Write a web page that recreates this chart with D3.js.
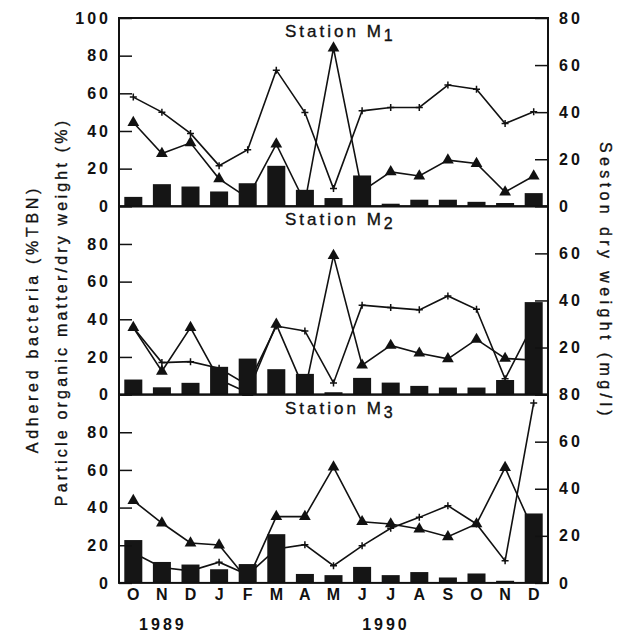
<!DOCTYPE html>
<html>
<head>
<meta charset="utf-8">
<script src="https://cdn.jsdelivr.net/npm/d3@7"></script>
<style>
  body { margin: 0; background: #fff; }
  svg text { font-family: "Liberation Sans", Arial, sans-serif; font-weight: bold; fill: #111; }
  svg text.title { font-weight: normal; stroke: #111; stroke-width: 0.35px; }
</style>
</head>
<body>
<div id="chart"></div>
<script>
// Months Oct 1989 - Dec 1990
const months = ['O', 'N', 'D', 'J', 'F', 'M', 'A', 'M', 'J', 'J', 'A', 'S', 'O', 'N', 'D'];
const years = [{ label: '1989', at: 1 }, { label: '1990', at: 8.8 }];

// Station M1
const seston1 = [4, 9.4, 8.4, 6.3, 9.8, 17.2, 7.0, 3.5, 13.1, 1.1, 2.8, 2.8, 1.9, 1.4, 5.6];
const pom1 = [58, 50, 38.7, 21.6, 30, 72.3, 49.8, 9.4, 50.7, 52.5, 52.5, 64.4, 62.2, 44, 50.2];
const bact1 = [44.5, 28, 33.7, 14.6, 4.5, 33, 2, 84, 8, 18.3, 16.1, 24.5, 22.7, 7.6, 16.1];

// Station M2
const seston2 = [6.4, 3.1, 5.0, 11.8, 15.3, 10.8, 8.8, 1.0, 7.1, 5.1, 3.7, 3.0, 3.0, 6.2, 39.3];
const pom2 = [35.6, 17, 17.5, 14, 5, 36.4, 33.8, 6.2, 47.5, 46.2, 45, 52.4, 45.3, 8.4, 38];
const bact2 = [35.6, 12.4, 35.6, 8, 1, 37.3, 2, 73.8, 15.6, 26.1, 22, 19, 29.3, 19.2, 18.3];

// Station M3
const seston3 = [18.2, 8.9, 7.8, 5.8, 8.0, 20.7, 3.8, 3.3, 6.8, 3.3, 4.6, 2.3, 4.0, 0.9, 29.5];
const pom3 = [16, 8.2, 6.4, 11, 4.3, 18, 20.3, 9.1, 19.7, 29, 34.8, 41, 31.3, 11.7, 95.6];
const bact3 = [43.7, 31.8, 21.2, 20.1, 1.6, 35.2, 35.2, 61.5, 32.5, 31.3, 28.6, 24.5, 31.3, 61.2, 27.5];

const stations = [
  { sub: '1', seston: seston1, pom: pom1, bact: bact1, leftTicks: [0, 20, 40, 60, 80, 100], rightTicks: [0, 20, 40, 60, 80] },
  { sub: '2', seston: seston2, pom: pom2, bact: bact2, leftTicks: [0, 20, 40, 60, 80], rightTicks: [20, 40, 60] },
  { sub: '3', seston: seston3, pom: pom3, bact: bact3, leftTicks: [0, 20, 40, 60, 80], rightTicks: [0, 20, 40, 60, 80] }
];

const W = 625, H = 632;
const plotLeft = 119, plotRight = 548, plotTop = 18, panelH = 188.3;

const svg = d3.select('#chart').append('svg')
  .attr('width', W).attr('height', H);

const x = d3.scaleBand()
  .domain(d3.range(months.length))
  .range([plotLeft, plotRight])
  .paddingInner(0.37)
  .paddingOuter(0.185);
const cx = i => x(i) + x.bandwidth() / 2;
// position between two month centres
const cxAt = v => cx(Math.floor(v)) + (v - Math.floor(v)) * x.step();

const triangle = d3.symbol().type(d3.symbolTriangle).size(60);

stations.forEach((st, p) => {
  const y0 = plotTop + p * panelH;
  const yL = d3.scaleLinear().domain([0, 100]).range([y0 + panelH, y0]);
  const yR = d3.scaleLinear().domain([0, 80]).range([y0 + panelH, y0]);
  const g = svg.append('g');

  // lines first, bars cover them
  const line = d3.line().x((d, i) => cx(i)).y(d => yL(d));
  g.append('path').datum(st.pom)
    .attr('d', line).attr('fill', 'none').attr('stroke', '#111').attr('stroke-width', 1.6);
  g.append('path').datum(st.bact)
    .attr('d', line).attr('fill', 'none').attr('stroke', '#111').attr('stroke-width', 1.6);

  // plus markers
  g.selectAll('.plus').data(st.pom).enter().append('path')
    .attr('class', 'plus')
    .attr('transform', (d, i) => `translate(${cx(i)},${yL(d)})`)
    .attr('d', 'M-3.5,0H3.5M0,-3.5V3.5')
    .attr('stroke', '#111').attr('stroke-width', 1.5);

  // triangle markers
  g.selectAll('.tri').data(st.bact).enter().append('path')
    .attr('class', 'tri')
    .attr('transform', (d, i) => `translate(${cx(i)},${yL(d)})`)
    .attr('d', triangle)
    .attr('fill', '#111');

  // seston bars
  g.selectAll('.bar').data(st.seston).enter().append('rect')
    .attr('class', 'bar')
    .attr('x', (d, i) => x(i))
    .attr('width', x.bandwidth())
    .attr('y', d => yR(d))
    .attr('height', d => yR(0) - yR(d))
    .attr('fill', '#151515');

  // frame
  g.append('rect')
    .attr('x', plotLeft).attr('y', y0)
    .attr('width', plotRight - plotLeft).attr('height', panelH)
    .attr('fill', 'none').attr('stroke', '#111').attr('stroke-width', 2);

  // axes with inward ticks
  const axL = g.append('g').attr('transform', `translate(${plotLeft},0)`)
    .call(d3.axisLeft(yL).tickValues(st.leftTicks).tickSizeInner(-13).tickSizeOuter(0).tickPadding(8));
  const axR = g.append('g').attr('transform', `translate(${plotRight},0)`)
    .call(d3.axisRight(yR).tickValues(st.rightTicks).tickSizeInner(-13).tickSizeOuter(0).tickPadding(11));
  [axL, axR].forEach(ax => {
    ax.select('.domain').remove();
    ax.selectAll('line').attr('stroke', '#111').attr('stroke-width', 1.5);
    ax.selectAll('text').style('font-size', '16px').style('letter-spacing', '3px')
      .style('font-family', '"Liberation Sans", Arial, sans-serif').style('font-weight', 'bold');
  });

  // station label
  const t = g.append('text')
    .attr('class', 'title')
    .attr('x', 285).attr('y', y0 + 19)
    .style('font-size', '17px').style('letter-spacing', '3px');
  t.append('tspan').text('Station M');
  t.append('tspan').attr('dy', 4).style('font-size', '16px').text(st.sub);
});

// month labels
const plotBottom = plotTop + 3 * panelH;
svg.append('g').selectAll('text').data(months).enter().append('text')
  .attr('x', (d, i) => cx(i))
  .attr('y', plotBottom + 17)
  .attr('text-anchor', 'middle')
  .style('font-size', '16px')
  .text(d => d);

svg.append('g').selectAll('text').data(years).enter().append('text')
  .attr('x', d => cxAt(d.at) + 1)
  .attr('y', plotBottom + 47)
  .attr('text-anchor', 'middle')
  .style('font-size', '16px').style('letter-spacing', '3px')
  .text(d => d.label);

// axis titles
svg.append('text')
  .attr('class', 'title')
  .attr('transform', 'translate(38,319) rotate(-90)')
  .attr('text-anchor', 'middle')
  .style('font-size', '16px').style('letter-spacing', '3.7px')
  .text('Adhered bacteria (%TBN)');
svg.append('text')
  .attr('class', 'title')
  .attr('transform', 'translate(67,312) rotate(-90)')
  .attr('text-anchor', 'middle')
  .style('font-size', '16px').style('letter-spacing', '3.2px')
  .text('Particle organic matter/dry weight (%)');
svg.append('text')
  .attr('class', 'title')
  .attr('transform', 'translate(600,281) rotate(90)')
  .attr('text-anchor', 'middle')
  .style('font-size', '16px').style('letter-spacing', '4.4px')
  .text('Seston dry weight (mg/l)');
</script>
</body>
</html>
